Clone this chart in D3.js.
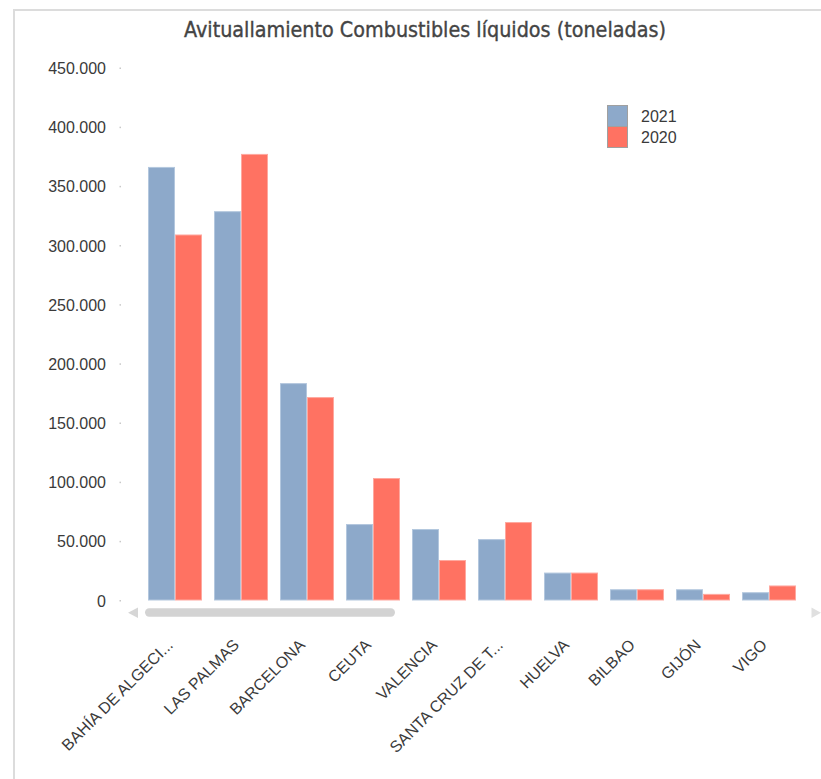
<!DOCTYPE html>
<html><head><meta charset="utf-8">
<script src="https://cdn.jsdelivr.net/npm/d3@7"></script>
<style>
html,body{margin:0;padding:0;background:#fff;}
svg{display:block;}
</style></head>
<body>
<svg id="chart" width="821" height="779"></svg>
<script>
const title = "Avituallamiento Combustibles líquidos (toneladas)";
const categories = ["BAHÍA DE ALGECI...", "LAS PALMAS", "BARCELONA", "CEUTA", "VALENCIA", "SANTA CRUZ DE T...", "HUELVA", "BILBAO", "GIJÓN", "VIGO"];
const seriesNames = ["2021", "2020"];
const values2021 = [366400, 329000, 183700, 64600, 60400, 51900, 23600, 9500, 9500, 7000];
const values2020 = [309300, 377400, 171900, 103500, 34200, 66300, 23600, 9500, 5600, 12700];
const yTicks = [0, 50000, 100000, 150000, 200000, 250000, 300000, 350000, 400000, 450000];
const colors = ["#8DA9CA", "#FF7262"];
const strokes = ["#B3C7DE", "#FFA89F"];

const svg = d3.select("#chart");
const W = 821, H = 779;

// frame
svg.append("line").attr("x1", 13).attr("x2", W).attr("y1", 10).attr("y2", 10)
  .attr("stroke", "#dcdcdc").attr("stroke-width", 2);
svg.append("line").attr("x1", 14).attr("x2", 14).attr("y1", 9).attr("y2", H)
  .attr("stroke", "#dcdcdc").attr("stroke-width", 2);

// title
const t = svg.append("text").attr("x", 425).attr("y", 37).attr("text-anchor", "middle")
  .attr("font-family", "'DejaVu Sans Condensed', 'DejaVu Sans', sans-serif")
  .attr("font-weight", "normal").attr("font-size", 17).attr("fill", "#444")
  .attr("stroke", "#444").attr("stroke-width", 0.35)
  .text(title);
const tl = t.node().getComputedTextLength();
t.attr("font-size", 17 * 482 / tl);

const y = d3.scaleLinear().domain([0, 450000]).range([600.5, 68]);
const x = d3.scaleBand().domain(categories).range([142, 802]).paddingInner(12/66).paddingOuter(6/66);
const x1 = d3.scaleBand().domain(seriesNames).range([0, x.bandwidth()]);

const loc = d3.formatLocale({decimal: ",", thousands: ".", grouping: [3], currency: ["", "€"]});
const fmt = loc.format(",d");

// y axis labels
const yAxis = d3.axisLeft(y).tickValues(yTicks).tickFormat(fmt).tickSize(0).tickPadding(0);
const gy = svg.append("g").attr("transform", "translate(106,0)").call(yAxis);
gy.select(".domain").remove();
gy.selectAll("text").attr("font-family", "'Liberation Sans', Arial, sans-serif")
  .attr("font-size", 16).attr("fill", "#3a3a3a").attr("x", 0).attr("dy", "0.35em");
// tick dots
svg.append("g").selectAll("rect").data(yTicks).join("rect")
  .attr("x", 119.5).attr("y", d => y(d) - 0.5).attr("width", 1.5).attr("height", 1.5)
  .attr("fill", "#c8c8c8");

// bars
const data = categories.map((c, i) => ({cat: c, vals: [values2021[i], values2020[i]]}));
const groups = svg.append("g").selectAll("g").data(data).join("g")
  .attr("transform", d => `translate(${x(d.cat)},0)`);
groups.selectAll("rect").data(d => d.vals.map((v, j) => ({s: seriesNames[j], v, j}))).join("rect")
  .attr("x", d => x1(d.s) + 0.5)
  .attr("y", d => y(d.v) + 0.5)
  .attr("width", x1.bandwidth() - 1)
  .attr("height", d => Math.max(0, y(0) - y(d.v) - 1))
  .attr("fill", d => colors[d.j])
  .attr("stroke", d => strokes[d.j]).attr("stroke-width", 1);

// scrollbar
svg.append("path").attr("d", "M128,612.7 L138,607.5 L138,618 Z").attr("fill", "#d6d6d6");
svg.append("rect").attr("x", 145).attr("y", 608.3).attr("width", 250).attr("height", 8.5)
  .attr("rx", 4.2).attr("fill", "#d3d3d3");
svg.append("path").attr("d", "M821,612.7 L811.5,607.5 L811.5,618 Z").attr("fill", "#e0e0e0");

// x labels
const gx = svg.append("g");
gx.selectAll("text").data(categories).join("text")
  .attr("transform", d => `translate(${x(d) + x.bandwidth()/2 - 1},646) rotate(-45)`)
  .attr("text-anchor", "end")
  .attr("font-family", "'Liberation Sans', Arial, sans-serif")
  .attr("font-size", 16).attr("fill", "#3a3a3a")
  .text(d => d);

// legend
const lg = svg.append("g").attr("transform", "translate(607,105)");
seriesNames.forEach((s, i) => {
  lg.append("rect").attr("x", 0.5).attr("y", i * 21 + 0.5).attr("width", 20).attr("height", 21)
    .attr("fill", colors[i]).attr("stroke", "#a0a0a0").attr("stroke-width", 1);
  lg.append("text").attr("x", 34).attr("y", i * 21 + 16.5)
    .attr("font-family", "'Liberation Sans', Arial, sans-serif")
    .attr("font-size", 16).attr("fill", "#3a3a3a").text(s);
});
</script>
</body></html>
